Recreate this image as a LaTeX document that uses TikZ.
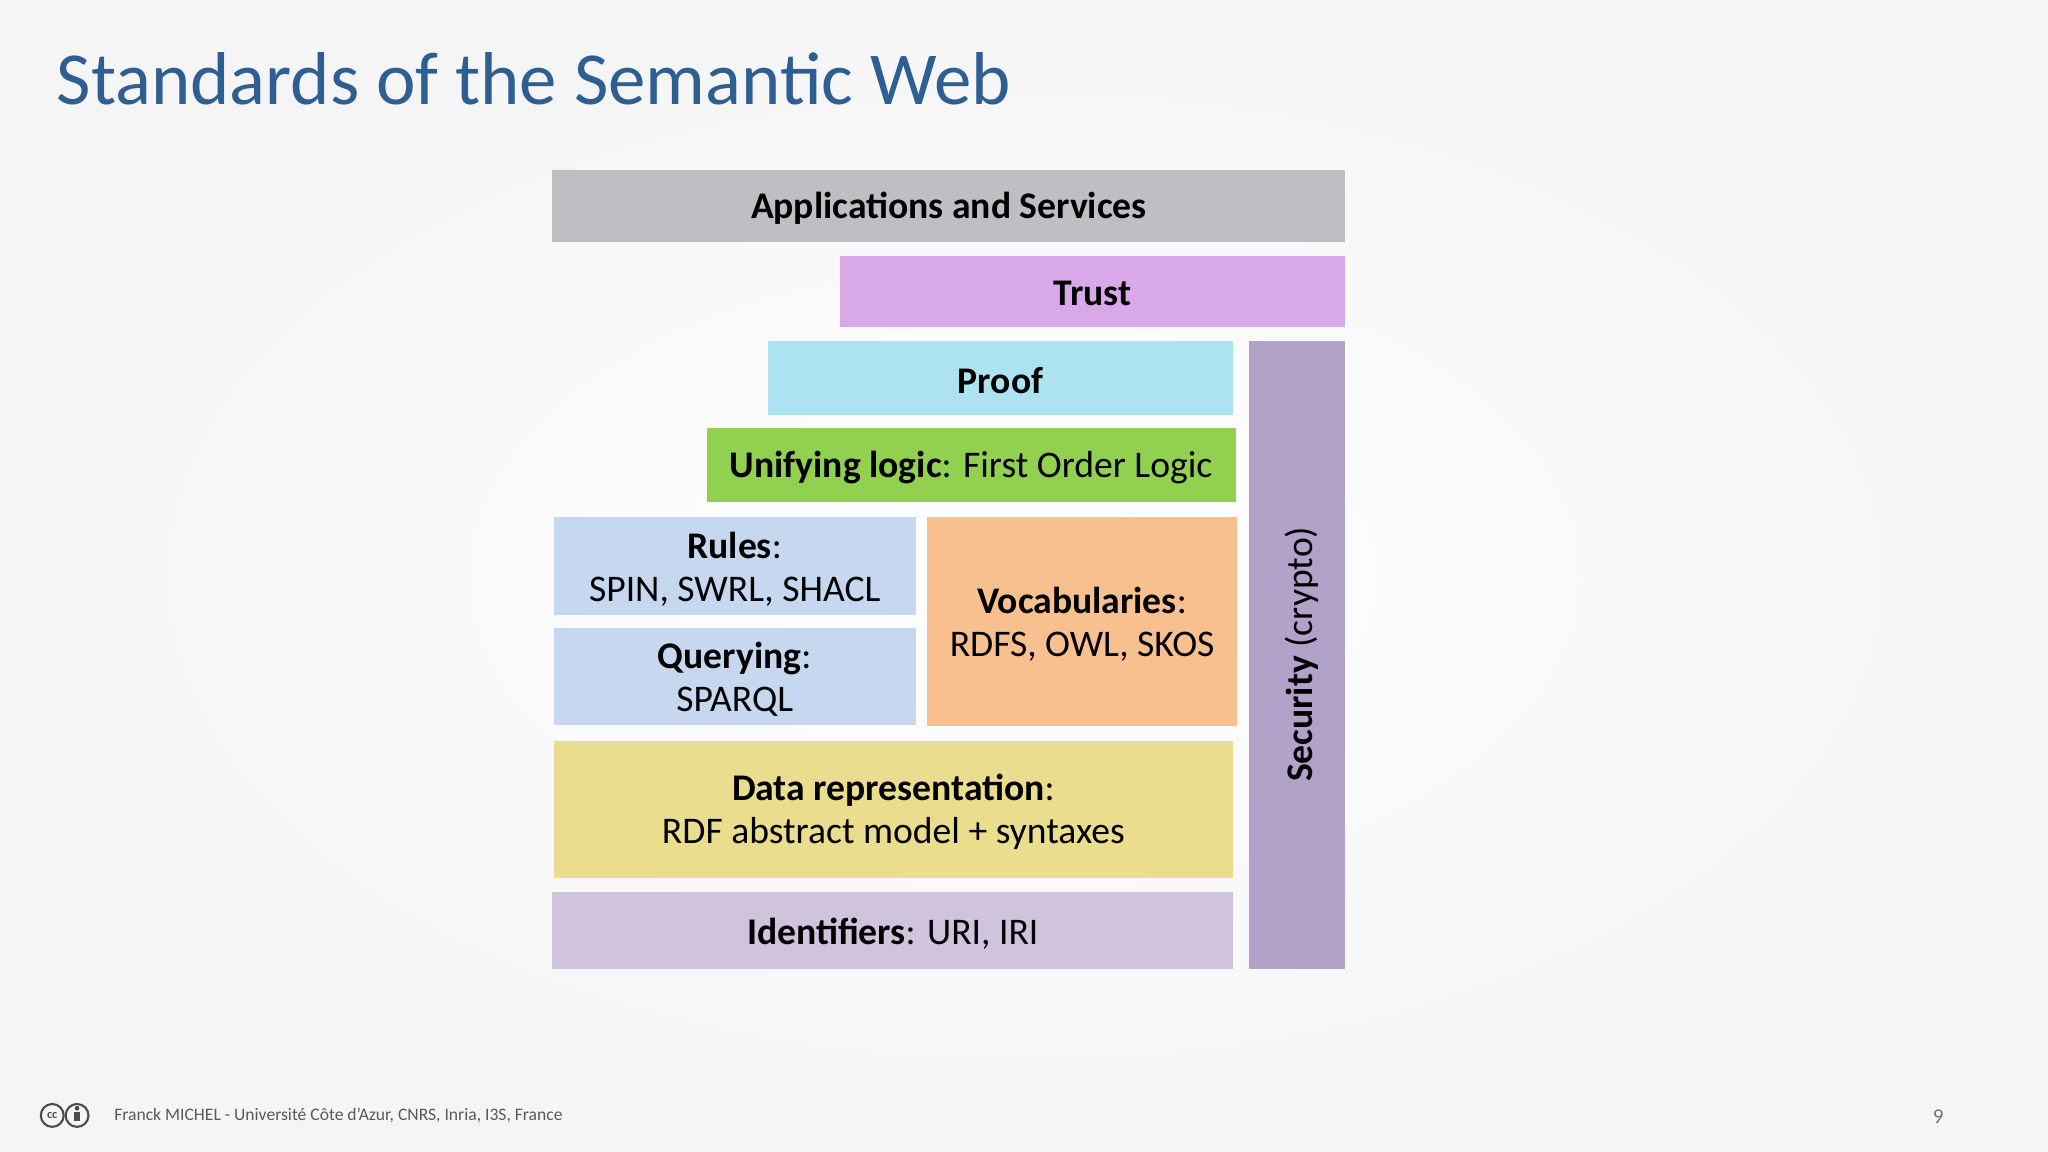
\documentclass[tikz,border=0pt]{standalone}
\usepackage{fontspec}
\setmainfont{Carlito}
\begin{document}
\begin{tikzpicture}[x=0.013061cm,y=-0.013061cm,
  box/.style={draw=none,inner sep=0pt,align=center,font=\fontsize{10.7}{12.2}\selectfont},
  ]
\definecolor{tit}{HTML}{2E5E92}
\useasboundingbox (0,0) rectangle (1568,882);
\shade[inner color=white,outer color=black!4] (0,0) rectangle (1568,882);
\node[anchor=west,text=tit,font=\fontsize{21.3}{26}\selectfont,inner sep=0pt] (title) at (43,60) {Standards of the Semantic Web};
\definecolor{cTrust}{HTML}{D9A8E8}\definecolor{cProof}{HTML}{ADE3F0}\definecolor{cUni}{HTML}{92D050}
\definecolor{cRule}{HTML}{C5D8EF}\definecolor{cVoc}{HTML}{F8C08F}\definecolor{cData}{HTML}{EBDD8E}
\definecolor{cId}{HTML}{CFC3DD}\definecolor{cSec}{HTML}{B2A2CA}\definecolor{cApp}{HTML}{BFBEC3}
\def\bx#1#2#3#4#5#6#7{\fill[fill=#6] (#2,#3) rectangle (#4,#5); \node[box] (#1) at ({(#2+#4)/2},{(#3+#5)/2+2}) {#7};}
\bx{app}{423}{130}{1030}{185}{cApp}{\textbf{Applications and Services}}
\bx{trust}{643}{196}{1030}{250}{cTrust}{\textbf{Trust}}
\bx{proof}{588}{261}{944}{318}{cProof}{\textbf{Proof}}
\bx{uni}{541}{328}{946}{384}{cUni}{\textbf{Unifying logic}: First Order Logic}
\bx{rules}{424}{396}{701}{471}{cRule}{\textbf{Rules}:\\SPIN, SWRL, SHACL}
\bx{query}{424}{481}{701}{555}{cRule}{\textbf{Querying}:\\SPARQL}
\bx{voc}{710}{396}{947}{556}{cVoc}{\textbf{Vocabularies}:\\RDFS, OWL, SKOS}
\bx{data}{424}{567}{944}{672}{cData}{\textbf{Data representation}:\\RDF abstract model + syntaxes}
\bx{ids}{423}{683}{944}{742}{cId}{\textbf{Identifiers}: URI, IRI}
\fill[cSec] (956,261) rectangle (1030,742);
\node[box,rotate=90] (sec) at (997,501) {\textbf{Security} (crypto)};
\node[circle,draw=black!70,line width=0.6pt,minimum size=6.5pt,inner sep=0pt,font=\fontsize{3.5}{4}\selectfont\bfseries,text=black!70] (cc) at (40,854) {cc};
\node[circle,draw=black!70,line width=0.6pt,minimum size=6.5pt,inner sep=0pt] (by) at (59,854) {};
\fill[black!70] (59,848.5) circle (1.8);
\fill[black!70] (56.5,851.5) rectangle (61.5,858);
\node[anchor=west,text=black!65,font=\fontsize{5}{6}\selectfont] (foot) at (78,854) {Franck MICHEL - Université Côte d’Azur, CNRS, Inria, I3S, France};
\node[text=black!55,font=\fontsize{6}{7}\selectfont] (num) at (1484,855) {9};
\end{tikzpicture}
\end{document}
